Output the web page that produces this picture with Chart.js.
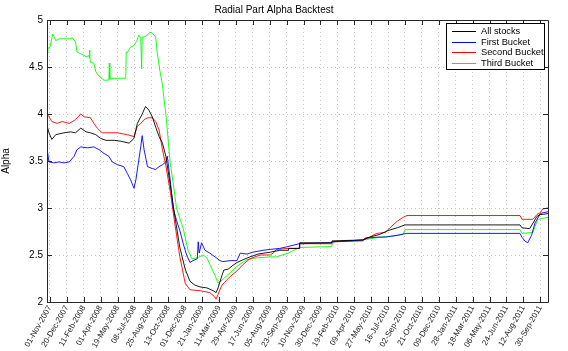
<!DOCTYPE html>
<html>
<head>
<meta charset="utf-8">
<script src="https://cdn.jsdelivr.net/npm/chart.js@4/dist/chart.umd.min.js"></script>
<style>
  body { margin: 0; background: #fff; }
</style>
</head>
<body>
<canvas id="alphaChart" width="568" height="351"></canvas>
<script>
// trading-day index -> alpha
const allStocks = [[0,3.88],[4,3.80],[10,3.73],[18,3.78],[35,3.80],[49,3.81],[59,3.80],[70,3.85],[81,3.81],[90,3.80],[101,3.78],[111,3.74],[122,3.72],[139,3.72],[153,3.71],[170,3.69],[180,3.74],[187,3.90],[197,4.00],[204,4.08],[211,4.04],[218,3.97],[225,3.86],[232,3.76],[239,3.69],[246,3.55],[255,3.25],[265,2.90],[275,2.58],[286,2.35],[296,2.22],[306,2.18],[317,2.16],[331,2.15],[344,2.12],[350,2.10],[354,2.15],[362,2.28],[366,2.34],[375,2.35],[385,2.39],[393,2.42],[406,2.45],[420,2.48],[437,2.51],[462,2.53],[482,2.55],[499,2.55],[500,2.57],[522,2.57],[523,2.63],[589,2.63],[590,2.65],[654,2.66],[668,2.69],[689,2.72],[706,2.76],[725,2.79],[741,2.82],[979,2.82],[983,2.79],[999,2.78],[1006,2.84],[1014,2.91],[1021,2.93],[1037,2.94]];

const firstBucket = [[0,3.64],[4,3.49],[14,3.48],[25,3.49],[35,3.48],[46,3.49],[56,3.55],[62,3.62],[70,3.65],[84,3.64],[97,3.65],[108,3.62],[118,3.58],[128,3.55],[135,3.49],[146,3.46],[159,3.44],[166,3.37],[173,3.30],[180,3.21],[184,3.30],[190,3.51],[194,3.65],[197,3.77],[201,3.62],[208,3.44],[218,3.42],[225,3.41],[232,3.44],[239,3.46],[246,3.49],[249,3.55],[255,3.30],[261,3.00],[268,2.87],[275,2.76],[282,2.62],[289,2.50],[296,2.42],[302,2.44],[311,2.46],[313,2.64],[315,2.52],[320,2.63],[327,2.55],[337,2.52],[348,2.48],[358,2.44],[364,2.43],[379,2.44],[393,2.44],[400,2.52],[414,2.51],[426,2.53],[447,2.55],[462,2.56],[482,2.57],[499,2.59],[522,2.62],[589,2.63],[590,2.64],[654,2.66],[662,2.68],[683,2.69],[700,2.69],[725,2.71],[745,2.73],[979,2.73],[983,2.69],[989,2.65],[995,2.63],[1003,2.71],[1010,2.84],[1021,2.94],[1027,2.95],[1037,2.96]];

const secondBucket = [[0,4.00],[4,3.97],[10,3.92],[21,3.90],[31,3.92],[46,3.90],[59,3.94],[70,4.00],[77,3.97],[90,3.96],[97,3.90],[104,3.85],[114,3.80],[130,3.80],[146,3.80],[166,3.78],[180,3.76],[187,3.87],[194,3.90],[201,3.94],[208,3.96],[218,3.96],[225,3.92],[232,3.83],[239,3.62],[246,3.45],[255,3.18],[265,2.82],[275,2.48],[286,2.20],[296,2.13],[317,2.12],[337,2.10],[346,2.06],[350,2.03],[354,2.08],[362,2.18],[379,2.27],[393,2.33],[406,2.40],[420,2.46],[441,2.50],[462,2.50],[468,2.52],[475,2.56],[499,2.57],[522,2.57],[523,2.62],[589,2.62],[590,2.64],[654,2.65],[658,2.68],[668,2.69],[675,2.71],[683,2.73],[700,2.74],[706,2.77],[725,2.86],[737,2.90],[745,2.92],[979,2.92],[983,2.88],[1006,2.88],[1014,2.93],[1021,2.95],[1026,2.99],[1037,3.00]];

const thirdBucket = [[0,4.65],[2,4.70],[6,4.71],[12,4.85],[18,4.78],[25,4.80],[35,4.80],[46,4.80],[52,4.81],[59,4.77],[62,4.66],[70,4.64],[81,4.61],[87,4.62],[88,4.68],[89,4.60],[90,4.55],[97,4.54],[101,4.45],[108,4.40],[118,4.36],[128,4.36],[129,4.54],[130,4.37],[139,4.38],[155,4.38],[163,4.38],[164,4.66],[166,4.65],[173,4.71],[180,4.73],[186,4.78],[190,4.84],[194,4.81],[196,4.48],[197,4.82],[201,4.82],[208,4.84],[213,4.87],[218,4.86],[225,4.82],[228,4.66],[234,4.45],[239,4.31],[242,4.17],[246,4.00],[255,3.48],[263,3.20],[268,3.00],[282,2.78],[292,2.55],[300,2.46],[311,2.47],[323,2.50],[331,2.47],[337,2.40],[348,2.28],[354,2.20],[364,2.24],[379,2.31],[393,2.38],[414,2.45],[434,2.47],[462,2.48],[475,2.48],[499,2.52],[503,2.53],[522,2.58],[589,2.59],[592,2.64],[654,2.66],[689,2.69],[716,2.70],[737,2.72],[741,2.77],[979,2.77],[983,2.73],[1006,2.74],[1010,2.80],[1016,2.88],[1026,2.89],[1037,2.90]];

const seriesNames = ["All stocks", "First Bucket", "Second Bucket", "Third Bucket"];
const seriesColors = ["#000000", "#0000ff", "#ff0000", "#00ff00"];

const tickLabels = ["01-Nov-2007","20-Dec-2007","11-Feb-2008","01-Apr-2008","19-May-2008","08-Jul-2008","25-Aug-2008","13-Oct-2008","01-Dec-2008","21-Jan-2009","11-Mar-2009","29-Apr-2009","17-Jun-2009","05-Aug-2009","23-Sep-2009","10-Nov-2009","30-Dec-2009","19-Feb-2010","09-Apr-2010","27-May-2010","16-Jul-2010","02-Sep-2010","21-Oct-2010","09-Dec-2010","28-Jan-2011","18-Mar-2011","06-May-2011","24-Jun-2011","12-Aug-2011","30-Sep-2011"];
const tickDays = tickLabels.map((_, i) => 6 + 35 * i);
const lastDay = 1037;

const FONT = "'Liberation Sans', Arial, sans-serif";

// matlab style box, inward ticks and legend
const matlabFrame = {
  id: "matlabFrame",
  afterDraw(chart) {
    const ctx = chart.ctx;
    const a = chart.chartArea;
    const xs = chart.scales.x, ys = chart.scales.y;
    ctx.save();
    ctx.strokeStyle = "#262626";
    ctx.lineWidth = 1;
    ctx.beginPath();
    ctx.rect(Math.round(a.left) + 0.5, Math.round(a.top) + 0.5, Math.round(a.width), Math.round(a.height));
    ctx.stroke();
    ctx.beginPath();
    tickDays.forEach(d => {
      const px = Math.round(xs.getPixelForValue(d)) + 0.5;
      ctx.moveTo(px, a.bottom); ctx.lineTo(px, a.bottom - 5);
      ctx.moveTo(px, a.top); ctx.lineTo(px, a.top + 5);
    });
    for (let v = 2; v <= 5; v += 0.5) {
      const py = Math.round(ys.getPixelForValue(v)) + 0.5;
      ctx.moveTo(a.left, py); ctx.lineTo(a.left + 5, py);
      ctx.moveTo(a.right, py); ctx.lineTo(a.right - 5, py);
    }
    ctx.stroke();

    // legend
    const lx = 446.5, ly = 23.5, lw = 98, lh = 46;
    ctx.fillStyle = "#fff";
    ctx.fillRect(lx, ly, lw, lh);
    ctx.strokeStyle = "#000";
    ctx.strokeRect(lx, ly, lw, lh);
    ctx.font = "9.3px " + FONT;
    ctx.textBaseline = "middle";
    chart.data.datasets.forEach((ds, i) => {
      const y = Math.round(ly + 7.5 + i * 10.6) + 0.5;
      ctx.strokeStyle = ds.borderColor;
      ctx.beginPath();
      ctx.moveTo(452, y); ctx.lineTo(476, y);
      ctx.stroke();
      ctx.fillStyle = "#000";
      ctx.fillText(ds.label, 481, y);
    });
    ctx.restore();
  }
};

const ctx = document.getElementById("alphaChart").getContext("2d");
const series = [allStocks, firstBucket, secondBucket, thirdBucket];

new Chart(ctx, {
  type: "line",
  data: {
    datasets: series.map((pts, i) => ({
      label: seriesNames[i],
      data: pts.map(p => ({ x: p[0], y: p[1] })),
      borderColor: seriesColors[i],
      borderWidth: 0.9,
      pointRadius: 0,
      tension: 0,
      fill: false,
      order: i
    }))
  },
  options: {
    responsive: false,
    animation: false,
    layout: { padding: { left: 0, right: 20, top: 0, bottom: 0 } },
    plugins: {
      legend: { display: false },
      tooltip: { enabled: false },
      title: {
        display: true,
        text: "Radial Part Alpha Backtest",
        color: "#000",
        font: { family: FONT, size: 10, weight: "normal" },
        padding: { top: 4, bottom: 4 }
      }
    },
    scales: {
      x: {
        type: "linear",
        min: 0,
        max: lastDay,
        afterBuildTicks: s => { s.ticks = tickDays.map(v => ({ value: v })); },
        afterFit: s => { s.height = 49; },
        ticks: {
          autoSkip: false,
          minRotation: 60,
          maxRotation: 60,
          padding: 2,
          color: "#222",
          font: { family: FONT, size: 8 },
          callback: (v, i) => tickLabels[i]
        },
        grid: { color: "#c4c4c4", drawTicks: false },
        border: { display: false, dash: [1, 3] }
      },
      y: {
        min: 2,
        max: 5,
        afterFit: s => { s.width = 47; },
        ticks: {
          stepSize: 0.5,
          padding: 4,
          color: "#000",
          font: { family: FONT, size: 10 },
          callback: v => String(v)
        },
        title: {
          display: true,
          text: "Alpha",
          color: "#000",
          font: { family: FONT, size: 10 },
          padding: { top: 0, bottom: 0 }
        },
        grid: { color: "#c4c4c4", drawTicks: false },
        border: { display: false, dash: [1, 3] }
      }
    }
  },
  plugins: [matlabFrame]
});
</script>
</body>
</html>
